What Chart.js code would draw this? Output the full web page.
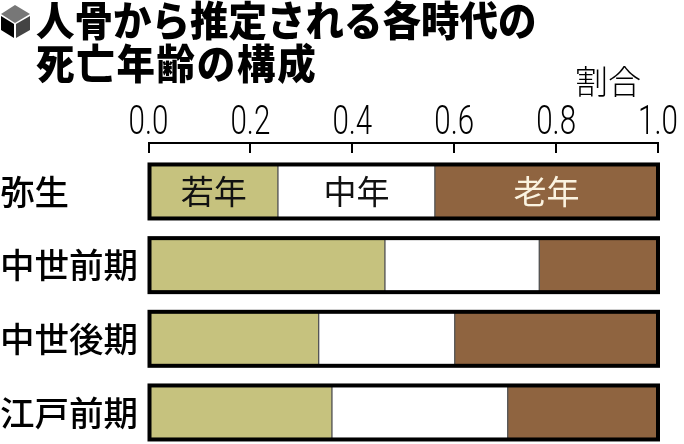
<!DOCTYPE html>
<html lang="ja">
<head>
<meta charset="utf-8">
<script src="https://cdn.jsdelivr.net/npm/chart.js@4/dist/chart.umd.min.js"></script>
<style>
    body { margin: 0; background: #fff; }
    #wrap { position: relative; width: 684px; height: 444px; overflow: hidden; }
    #chart { position: absolute; left: 0; top: 0; }
    #icon { position: absolute; left: 0; top: 3px; }
    #title {
        position: absolute; left: 36px; top: -3px; margin: 0;
        font: 900 38.5px/41px "Noto Sans CJK JP", sans-serif; color: #000; white-space: nowrap;
        transform: scaleY(1.05); transform-origin: left top;
    }
    #title span { letter-spacing: 1.7px; }
    #unit {
        position: absolute; left: 575px; top: 60px;
        font: 300 33px/40px "Noto Sans CJK JP", sans-serif; color: #000;
    }
</style>
</head>
<body>
<div id="wrap">
    <canvas id="chart" width="684" height="444"></canvas>
    <svg id="icon" width="32" height="36" viewBox="0 0 32 36">
        <polygon points="15,2 30,11 15,20 1,11" fill="#777"/>
        <polygon points="1,13 14,21 14,35 1,27" fill="#000"/>
        <polygon points="16,21 30,13 30,27 16,35" fill="#444"/>
    </svg>
    <h1 id="title">人骨から推定される各時代の<br><span>死亡年齢の構成</span></h1>
    <div id="unit">割合</div>
</div>
<script>
const periods = ['弥生', '中世前期', '中世後期', '江戸前期'];
const young = [0.254, 0.464, 0.334, 0.36];
const middle = [0.308, 0.303, 0.267, 0.345];
const old = [0.438, 0.233, 0.399, 0.295];
const tickValues = [0, 0.2, 0.4, 0.6, 0.8, 1];

const toPoints = values => values.map((v, i) => ({ x: v, y: i }));

// outline round each whole bar, the names inside the first one, and the squeezed top tick labels
const barFrames = {
    id: 'barFrames',
    afterDatasetsDraw(chart) {
        const ctx = chart.ctx;
        const metas = chart.getSortedVisibleDatasetMetas();
        ctx.save();
        periods.forEach((p, i) => {
            const first = metas[0].data[i];
            const last = metas[metas.length - 1].data[i];
            ctx.strokeStyle = '#000';
            ctx.lineWidth = 4;
            ctx.strokeRect(first.base, first.y - first.height / 2, last.x - first.base, first.height);
        });
        ctx.font = '33px "Noto Sans CJK JP"';
        ctx.textAlign = 'center';
        ctx.textBaseline = 'middle';
        metas.forEach(meta => {
            const bar = meta.data[0];
            const ds = chart.data.datasets[meta.index];
            ctx.fillStyle = ds.textColor;
            ctx.fillText(ds.label, (bar.x + bar.base) / 2, bar.y);
        });
        ctx.fillStyle = '#000';
        ctx.font = '300 41px Roboto';
        ctx.textBaseline = 'alphabetic';
        tickValues.forEach(v => {
            ctx.save();
            ctx.translate(chart.scales.x.getPixelForValue(v), 134);
            ctx.scale(0.72, 1);
            ctx.fillText(v.toFixed(1), 0, 0);
            ctx.restore();
        });
        ctx.restore();
    }
};

new Chart(document.getElementById('chart'), {
    type: 'bar',
    data: {
        datasets: [
            { label: '若年', data: toPoints(young), backgroundColor: '#c6c27e', textColor: '#111' },
            { label: '中年', data: toPoints(middle), backgroundColor: '#ffffff', textColor: '#111' },
            { label: '老年', data: toPoints(old), backgroundColor: '#8f6440', textColor: '#fbf3e0' }
        ]
    },
    options: {
        indexAxis: 'y',
        responsive: false,
        animation: false,
        layout: { padding: { left: 0, right: 26, top: 0, bottom: 0 } },
        datasets: { bar: { barThickness: 54, borderWidth: 1, borderColor: '#555', borderSkipped: false } },
        plugins: { legend: { display: false }, title: { display: false }, tooltip: { enabled: false } },
        scales: {
            x: {
                type: 'linear',
                position: 'top',
                stacked: true,
                min: 0,
                max: 1,
                afterBuildTicks: axis => { axis.ticks = tickValues.map(v => ({ value: v })); },
                afterFit: axis => { axis.height = 143; axis.paddingLeft = 0; axis.paddingRight = 0; },
                border: { color: '#000', width: 2 },
                grid: { drawOnChartArea: false, color: '#000', lineWidth: 2, tickLength: -10 },
                ticks: { display: false }
            },
            y: {
                type: 'linear',
                position: 'left',
                stacked: true,
                reverse: true,
                offset: false,
                min: -0.658,
                max: 3.428,
                afterBuildTicks: axis => { axis.ticks = periods.map((p, i) => ({ value: i })); },
                afterFit: axis => { axis.width = 148.5; axis.paddingTop = 0; axis.paddingBottom = 0; },
                border: { display: false },
                grid: { display: false, drawTicks: false },
                ticks: {
                    crossAlign: 'far',
                    padding: 3,
                    color: '#000',
                    font: { family: '"Noto Sans CJK JP"', size: 34.5, weight: 500 },
                    callback: v => periods[v]
                }
            }
        }
    },
    plugins: [barFrames]
});
</script>
</body>
</html>
